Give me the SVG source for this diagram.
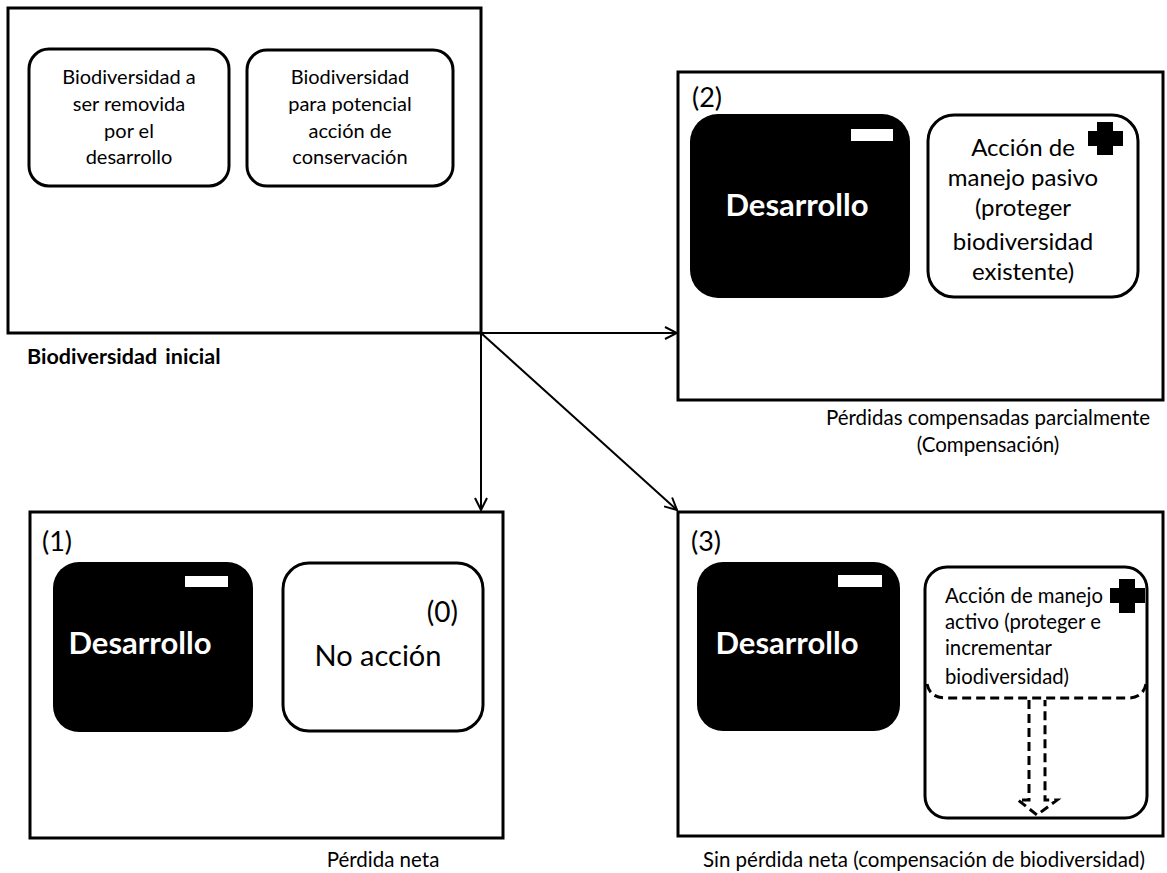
<svg xmlns="http://www.w3.org/2000/svg" width="1167" height="873" viewBox="0 0 1167 873">
  <defs>
    <marker id="open-arrow" viewBox="0 0 14 14" refX="13" refY="7" markerWidth="14" markerHeight="14" markerUnits="userSpaceOnUse" orient="auto">
      <path d="M1,1 L13,7 L1,13" fill="none" stroke="#000" stroke-width="2"/>
    </marker>
    <style>
      .frame { fill: #fff; stroke: #000; stroke-width: 3; }
      .card { fill: #fff; stroke: #000; stroke-width: 3; }
      .dev { fill: #000; }
      .bar { fill: #fff; }
      .plus { fill: #000; }
      text { font-family: Lato, "Open Sans", sans-serif; fill: #000; }
      .lbl { font-size: 20px; text-anchor: middle; }
      .num { font-size: 27px; }
      .devtxt { font-size: 31px; font-weight: bold; fill: #fff; text-anchor: middle; }
      .cap { font-size: 20.5px; text-anchor: middle; }
      .conn { stroke: #000; stroke-width: 2; fill: none; marker-end: url(#open-arrow); }
      .dash { stroke: #000; stroke-width: 3; fill: none; stroke-dasharray: 9 5; }
    </style>
  </defs>

  <!-- Initial state -->
  <g id="inicial">
    <rect class="frame" x="8" y="8" width="473" height="325"/>
    <rect class="card" x="29" y="49" width="200" height="137" rx="20"/>
    <text class="lbl" x="129" y="84">Biodiversidad a</text>
    <text class="lbl" x="129" y="111">ser removida</text>
    <text class="lbl" x="129" y="138">por el</text>
    <text class="lbl" x="129" y="164">desarrollo</text>
    <rect class="card" x="247" y="50" width="206" height="136" rx="20"/>
    <text class="lbl" x="350" y="84">Biodiversidad</text>
    <text class="lbl" x="350" y="111">para potencial</text>
    <text class="lbl" x="350" y="138">acción de</text>
    <text class="lbl" x="350" y="164">conservación</text>
    <text x="27" y="364" style="font-size:21.5px;font-weight:bold;word-spacing:3px">Biodiversidad inicial</text>
  </g>

  <!-- Scenario 2: partial compensation -->
  <g id="escenario2">
    <rect class="frame" x="678" y="72" width="485" height="328"/>
    <text class="num" x="692" y="107">(2)</text>
    <rect class="dev" x="690" y="114" width="220" height="184" rx="28"/>
    <rect class="bar" x="851" y="129" width="42" height="12"/>
    <text class="devtxt" x="797" y="216">Desarrollo</text>
    <rect class="card" x="928" y="115" width="210" height="182" rx="26"/>
    <path class="plus" d="M1097,122 h16 v9 h10 v15 h-10 v9 h-16 v-9 h-9 v-15 h9 z"/>
    <g style="font-size:24px;text-anchor:middle">
      <text x="1023" y="156">Acción de</text>
      <text x="1023" y="186">manejo pasivo</text>
      <text x="1023" y="216">(proteger</text>
      <text x="1023" y="250">biodiversidad</text>
      <text x="1023" y="280">existente)</text>
    </g>
    <text class="cap" x="988" y="425">Pérdidas compensadas parcialmente</text>
    <text class="cap" x="988" y="452">(Compensación)</text>
  </g>

  <!-- Scenario 1: net loss -->
  <g id="escenario1">
    <rect class="frame" x="30" y="512" width="473" height="326"/>
    <text class="num" x="42" y="551">(1)</text>
    <rect class="dev" x="53" y="562" width="200" height="170" rx="26"/>
    <rect class="bar" x="185" y="576" width="43" height="11"/>
    <text class="devtxt" x="140" y="654">Desarrollo</text>
    <rect class="card" x="283" y="563" width="200" height="168" rx="26"/>
    <text x="458" y="622" style="font-size:28px;text-anchor:end">(0)</text>
    <text x="378" y="666" style="font-size:29px;text-anchor:middle">No acción</text>
    <text class="cap" x="383" y="867">Pérdida neta</text>
  </g>

  <!-- Scenario 3: no net loss -->
  <g id="escenario3">
    <rect class="frame" x="678" y="512" width="485" height="324"/>
    <text class="num" x="691" y="551">(3)</text>
    <rect class="dev" x="697" y="562" width="203" height="169" rx="26"/>
    <rect class="bar" x="838" y="575" width="44" height="12"/>
    <text class="devtxt" x="787" y="654">Desarrollo</text>
    <rect class="card" x="925" y="567" width="222" height="251" rx="22"/>
    <path class="plus" d="M1119,579 h16 v9 h10 v15 h-10 v10 h-16 v-10 h-9 v-15 h9 z"/>
    <g style="font-size:20.3px">
      <text x="945" y="603">Acción de manejo</text>
      <text x="945" y="629">activo (proteger e</text>
      <text x="945" y="655">incrementar</text>
      <text x="945" y="684">biodiversidad)</text>
    </g>
    <path class="dash" d="M927,684 Q930,698 946,698 H1128 Q1143,698 1146,684"/>
    <path class="dash" d="M1029,700 V800 H1018 L1037,815 L1057,800 H1045 V700"/>
    <text class="cap" x="924" y="867">Sin pérdida neta (compensación de biodiversidad)</text>
  </g>

  <!-- Connectors -->
  <g id="connectors">
    <path class="conn" d="M481,333 H677"/>
    <path class="conn" d="M481,333 V510"/>
    <path class="conn" d="M481,333 L677,510"/>
  </g>
</svg>
